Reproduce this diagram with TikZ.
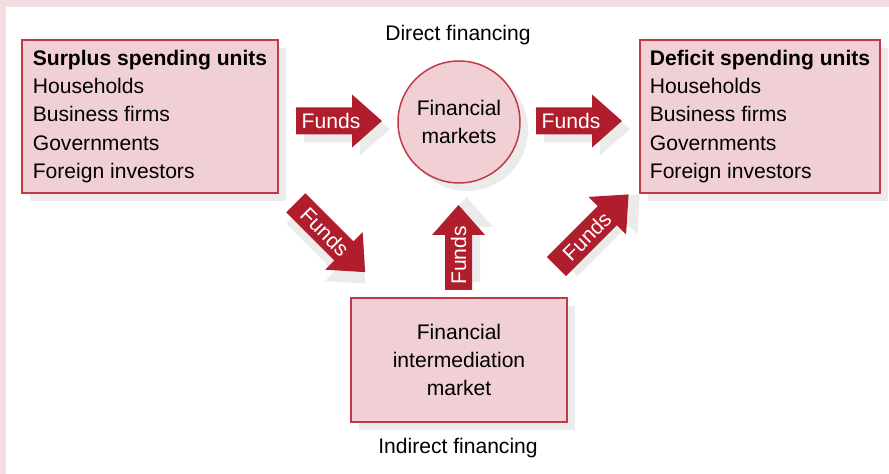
\documentclass[tikz,border=0pt]{standalone}
\usepackage{fontspec}
\setmainfont{Liberation Sans}
\usetikzlibrary{positioning,shadows}

\definecolor{boxpink}{HTML}{F0D0D4}
\definecolor{boxline}{HTML}{C23A44}
\definecolor{arrowred}{HTML}{B01E2D}
\definecolor{framepink}{HTML}{F3DDE0}
\definecolor{shadowgrey}{HTML}{EBEBEB}

\tikzset{
  greyshadow/.style={drop shadow={shadow xshift=.16cm, shadow yshift=-.16cm, fill=shadowgrey, opacity=1}},
  unitbox/.style={draw=boxline, fill=boxpink, line width=.85pt, minimum height=3.06cm,
    align=left, minimum width=#1, greyshadow},
  marketbox/.style={draw=boxline, fill=boxpink, line width=.85pt, align=center, greyshadow},
  fundstext/.style={text=white, inner sep=1pt},
}

% block arrow: name, centre, angle, length
\newcommand{\fundsarrow}[4]{%
  \begin{scope}[shift={#2}, rotate=#3]
    \pgfmathsetmacro\halflen{#4/2}
    \pgfmathsetmacro\headbase{#4/2-.6}
    \fill[shadowgrey, shift={(.16,-.16)}] (-\halflen,-.27) -- (\headbase,-.27) -- (\headbase,-.53)
      -- (\halflen,0) -- (\headbase,.53) -- (\headbase,.27) -- (-\halflen,.27) -- cycle;
    \fill[arrowred] (-\halflen,-.27) -- (\headbase,-.27) -- (\headbase,-.53)
      -- (\halflen,0) -- (\headbase,.53) -- (\headbase,.27) -- (-\halflen,.27) -- cycle;
    \node[fundstext, transform shape] (#1) at (-.16,0) {Funds};
  \end{scope}}

\begin{document}
\begin{tikzpicture}[font=\fontsize{12pt}{16pt}\selectfont]
      \useasboundingbox (0,0) rectangle (17.78,9.48);
      % frame
      \fill[framepink] (0,0) rectangle (17.78,9.48);
      \fill[white] (0.12,0) rectangle (17.78,9.34);

      % Define the spending units and the markets
      \node[unitbox=5.12cm] (surplus) at (3.0,7.15) {\textbf{Surplus spending units}\\Households\\Business firms\\Governments\\Foreign investors};
      \node[unitbox=4.8cm] (deficit) at (15.2,7.15) {\textbf{Deficit spending units}\\Households\\Business firms\\Governments\\Foreign investors};
      \node[marketbox, circle, minimum size=2.44cm, inner sep=0pt] (markets) at (9.18,7.04) {Financial\\markets};
      \node[marketbox, minimum width=4.32cm, minimum height=2.48cm] (interm) at (9.18,2.28) {Financial\\intermediation\\market};

      % Define the labels
      \node (direct) at (9.16,8.78) {Direct financing};
      \node (indirect) at (9.16,0.52) {Indirect financing};

      % Draw the funds arrows
      \fundsarrow{f1}{(6.78,7.06)}{0}{1.72}
      \fundsarrow{f2}{(11.58,7.06)}{0}{1.72}
      \fundsarrow{f3}{(6.61,4.73)}{-45}{1.96}
      \fundsarrow{f4}{(9.17,4.53)}{90}{1.70}
      \fundsarrow{f5}{(11.85,4.87)}{45}{2.04}
\end{tikzpicture}
\end{document}
